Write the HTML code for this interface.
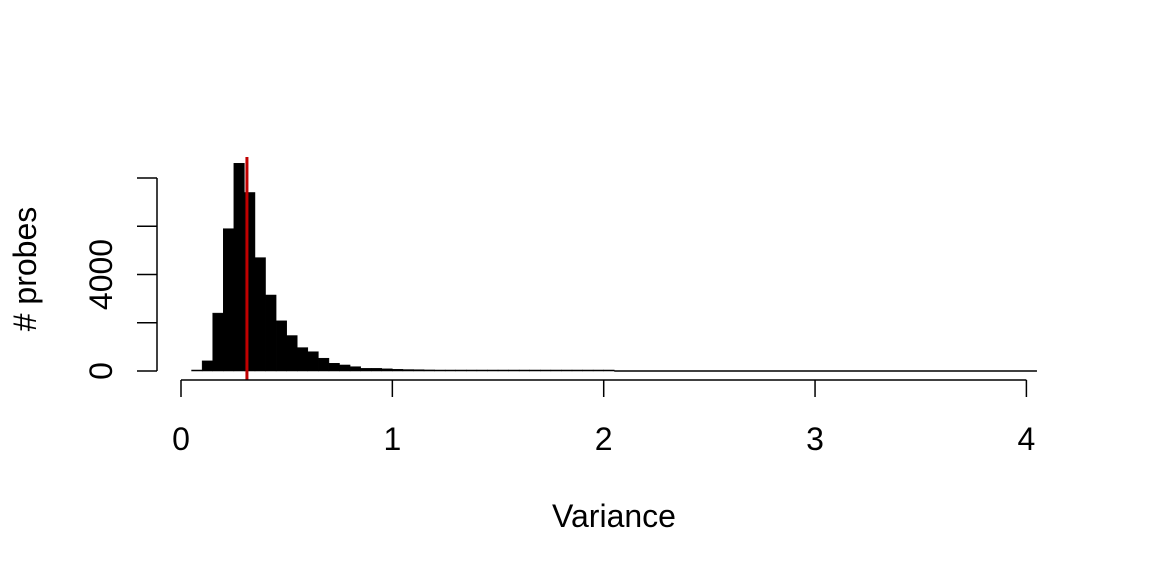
<!DOCTYPE html>
<html><head><meta charset="utf-8"><style>
html,body{margin:0;padding:0;background:#fff;}
svg{display:block;font-family:"Liberation Sans",sans-serif;}
</style></head><body>
<svg id="chart" width="1152" height="576" xmlns="http://www.w3.org/2000/svg"></svg>
<script>
const binStarts = [0.05,0.10,0.15,0.20,0.25,0.30,0.35,0.40,0.45,0.50,0.55,0.60,0.65,0.70,0.75,0.80,0.85,0.90,0.95,1.00,1.05,1.10,1.15,1.20,1.25,1.30,1.35,1.40,1.45,1.50,1.55,1.60,1.65,1.70,1.75,1.80,1.85,1.90,1.95,2.00];
const counts = [40,420,2400,5900,8610,7400,4700,3150,2080,1470,970,800,530,320,250,180,110,110,90,70,60,55,45,40,35,30,28,25,22,20,18,16,15,14,12,11,10,9,8,8];
const binWidth = 0.05;
const tailEnd = 4.05;
const xTicks = [0,1,2,3,4];
const yTicks = [0,2000,4000,6000,8000];
const yTickLabels = ["0","","4000","",""];
const markerValue = 0.312;

const NS = "http://www.w3.org/2000/svg";
const svg = document.getElementById('chart');
const xs = v => 181 + v * 211.35;
const ys = c => 371 - c * 0.024125;
function mk(tag, attrs){const e=document.createElementNS(NS,tag);for(const k in attrs)e.setAttribute(k,attrs[k]);svg.appendChild(e);return e;}

const tl = mk('line',{x1:xs(binStarts[binStarts.length-1]+binWidth),x2:xs(tailEnd),y1:371,y2:371,stroke:'#000','stroke-width':1.5});



binStarts.forEach((b,i)=>{
  const h = Math.max(counts[i]*0.024125, 1);
  const r = mk('rect',{x:xs(b),y:371-h,width:xs(b+binWidth)-xs(b),height:h,fill:'#000',stroke:'#000','stroke-width':0.5});
  
  
});

const ml = mk('line',{x1:xs(markerValue),x2:xs(markerValue),y1:157,y2:380,stroke:'#c00000','stroke-width':3});



const xa = mk('line',{x1:xs(xTicks[0]),x2:xs(xTicks[xTicks.length-1]),y1:380,y2:380,stroke:'#000','stroke-width':1.5});


xTicks.forEach(t=>{
  const l = mk('line',{x1:xs(t),x2:xs(t),y1:380,y2:397,stroke:'#000','stroke-width':1.5});
  
  
  const tx = mk('text',{x:xs(t),y:450,'text-anchor':'middle','font-size':32});
  tx.textContent = String(t);
  
  
});

const ya = mk('line',{x1:157,x2:157,y1:ys(yTicks[0]),y2:ys(yTicks[yTicks.length-1]),stroke:'#000','stroke-width':1.5});


yTicks.forEach((t,i)=>{
  const l = mk('line',{x1:137,x2:157,y1:ys(t),y2:ys(t),stroke:'#000','stroke-width':1.5});
  
  
  if(yTickLabels[i]){
    const tx = mk('text',{x:0,y:0,'text-anchor':'middle','font-size':32,transform:`translate(112,${ys(t)}) rotate(-90)`});
    tx.textContent = yTickLabels[i];
    
    
  }
});

const xt = mk('text',{x:614,y:527,'text-anchor':'middle','font-size':32});
xt.textContent = 'Variance';


const yt = mk('text',{x:0,y:0,'text-anchor':'middle','font-size':32,transform:'translate(36,269) rotate(-90)'});
yt.textContent = '# probes';


</script>
</body></html>
